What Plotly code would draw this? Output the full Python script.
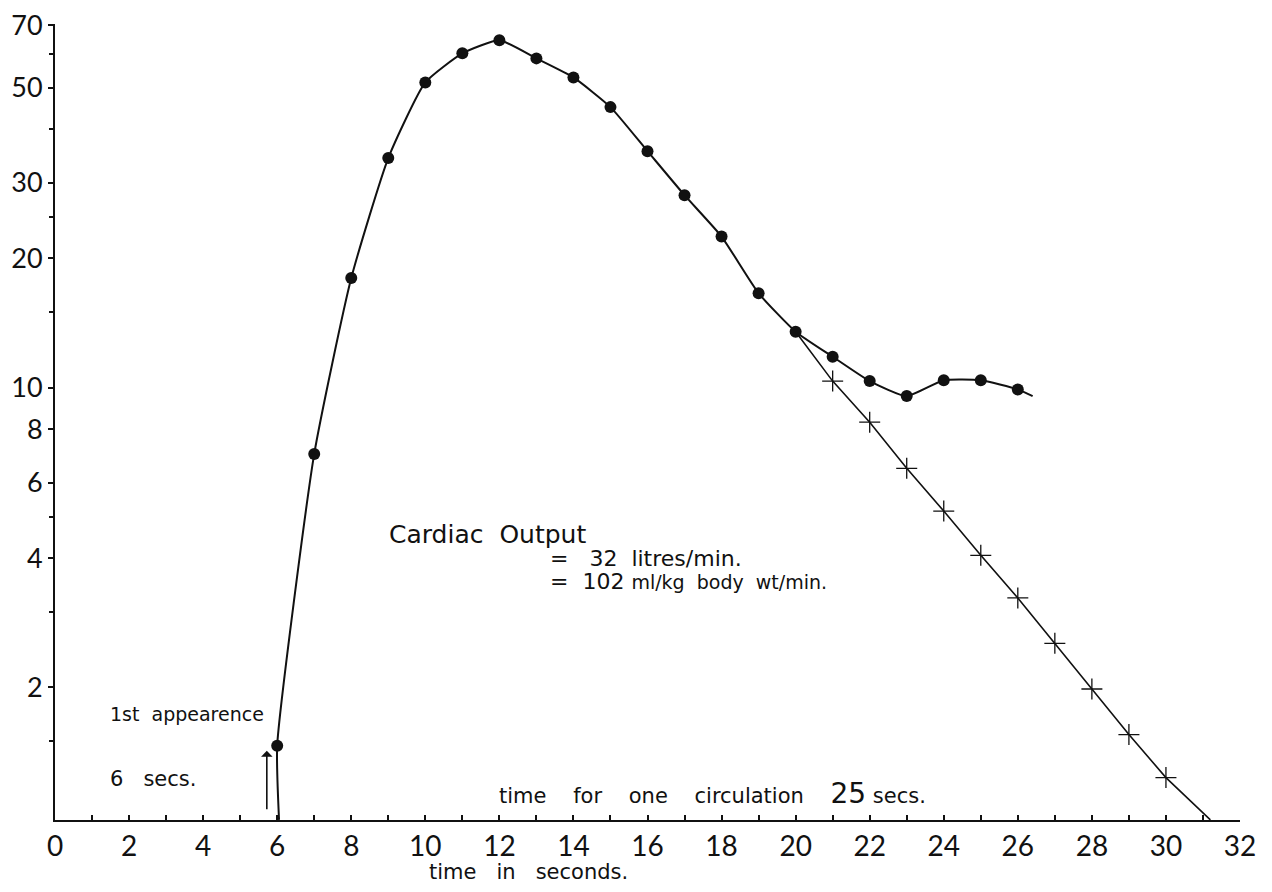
import math
import plotly.graph_objects as go

# ---- data ----
dot_t = [6, 7, 8, 9, 10, 11, 12, 13, 14, 15, 16, 17, 18, 19, 20, 21, 22, 23, 24, 25, 26]
dot_v = [1.46, 7.0, 18.0, 34.3, 51.5, 60.2, 64.6, 58.6, 52.9, 45.1, 35.6, 28.1, 22.5,
         16.6, 13.5, 11.8, 10.35, 9.55, 10.4, 10.4, 9.9]

# curve start (on the time axis) and tail end of the drawn curve
curve_start_t, curve_start_v = 6.05, 0.98
curve_end_t, curve_end_v = 26.4, 9.55

cross_t = [21, 22, 23, 24, 25, 26, 27, 28, 29, 30]
cross_v = [10.35, 8.3, 6.48, 5.15, 4.06, 3.23, 2.53, 1.98, 1.55, 1.23]

# extrapolated straight line: starts at the 20 s point, ends on the time axis
extrap_start_t, extrap_start_v = 20, 13.5
extrap_end_t, extrap_end_v = 31.2, 0.98

x_tickvals = list(range(0, 33))
x_ticktext = [str(v) if v % 2 == 0 else "" for v in x_tickvals]
y_tickvals = [2, 4, 6, 8, 10, 20, 30, 50, 70]
y_ticktext = ["2", "4", "6", "8", "10", "20", "30", "50", "70"]
y_minor = [1.5, 3, 5, 15, 25, 40, 60]

FONT = "Lato"
TFONT = "DejaVu Sans"
INK = "#111111"

fig = go.Figure()

# main curve
fig.add_trace(go.Scatter(
    x=[curve_start_t] + dot_t + [curve_end_t],
    y=[curve_start_v] + dot_v + [curve_end_v],
    mode="lines", line=dict(color=INK, width=2, shape="spline", smoothing=0.5),
    hoverinfo="skip", showlegend=False))
fig.add_trace(go.Scatter(
    x=dot_t, y=dot_v, mode="markers",
    marker=dict(color=INK, size=12, symbol="circle"), showlegend=False))

# extrapolated line with crosses
fig.add_trace(go.Scatter(
    x=[extrap_start_t] + cross_t + [extrap_end_t],
    y=[extrap_start_v] + cross_v + [extrap_end_v],
    mode="lines", line=dict(color=INK, width=1.6),
    hoverinfo="skip", showlegend=False))
fig.add_trace(go.Scatter(
    x=cross_t, y=cross_v, mode="markers",
    marker=dict(symbol="cross-thin", size=15, line=dict(color=INK, width=1.3)),
    showlegend=False))

# page body has an 8px margin; figure is sized to fit the 1272x892 window
OFF = 8
W, H = 1264, 884
L, R, T, B = 47, 32, 16, 72
pw, ph = W - L - R, H - T - B


def px(x):
    return (x - OFF - L) / pw


def py(y):
    return (H - B - (y - OFF)) / ph


def label(text, x, y, size, anchor="left", family=TFONT):
    fig.add_annotation(text=text, x=px(x), y=py(y), xref="paper", yref="paper",
                       xanchor=anchor, yanchor="middle", showarrow=False,
                       font=dict(family=family, size=size, color=INK))


label("Cardiac  Output", 387, 534, 25)
label("=   32  litres/min.", 548, 558, 22)
label('=  102 <span style="font-size:19px">ml/kg  body  wt/min.</span>', 548, 581, 22)
label("1st  appearence", 108, 714, 19)
label("6   secs.", 108, 779, 21)
label('time    for    one    circulation    <span style="font-size:28px">25</span> secs.',
      497, 793, 21)
label("time   in   seconds.", 528, 872, 21, anchor="center")

# arrow for first appearance
fig.add_annotation(x=5.72, y=math.log10(1.42), ax=5.72, ay=math.log10(1.03),
                   xref="x", yref="y", axref="x", ayref="y", text="",
                   showarrow=True, arrowhead=1, arrowsize=1.2, arrowwidth=1.6,
                   arrowcolor=INK)

fig.update_layout(
    width=W, height=H,
    margin=dict(l=L, r=R, t=T, b=B, autoexpand=False),
    paper_bgcolor="white", plot_bgcolor="white",
    font=dict(family=FONT, color=INK),
    xaxis=dict(range=[0, 32.0], tickmode="array", tickvals=x_tickvals,
               ticktext=x_ticktext, ticks="inside", ticklen=5, tickwidth=1.5,
               tickcolor=INK, showline=True, linecolor=INK, linewidth=2,
               showgrid=False, zeroline=False, automargin=False,
               ticklabeloverflow="allow",
               tickfont=dict(family=FONT, size=28, color=INK)),
    yaxis=dict(type="log", range=[-0.009, math.log10(70) + 0.003], tickmode="array",
               tickvals=y_tickvals, ticktext=y_ticktext, ticks="outside",
               ticklen=5, tickwidth=1.5, tickcolor=INK, showline=True,
               linecolor=INK, linewidth=2, showgrid=False, zeroline=False,
               automargin=False, ticklabeloverflow="allow",
               tickfont=dict(family=FONT, size=27, color=INK),
               minor=dict(tickmode="array", tickvals=y_minor, ticks="outside",
                          ticklen=4, tickcolor=INK, showgrid=False)),
)

fig.write_html("out.html")
